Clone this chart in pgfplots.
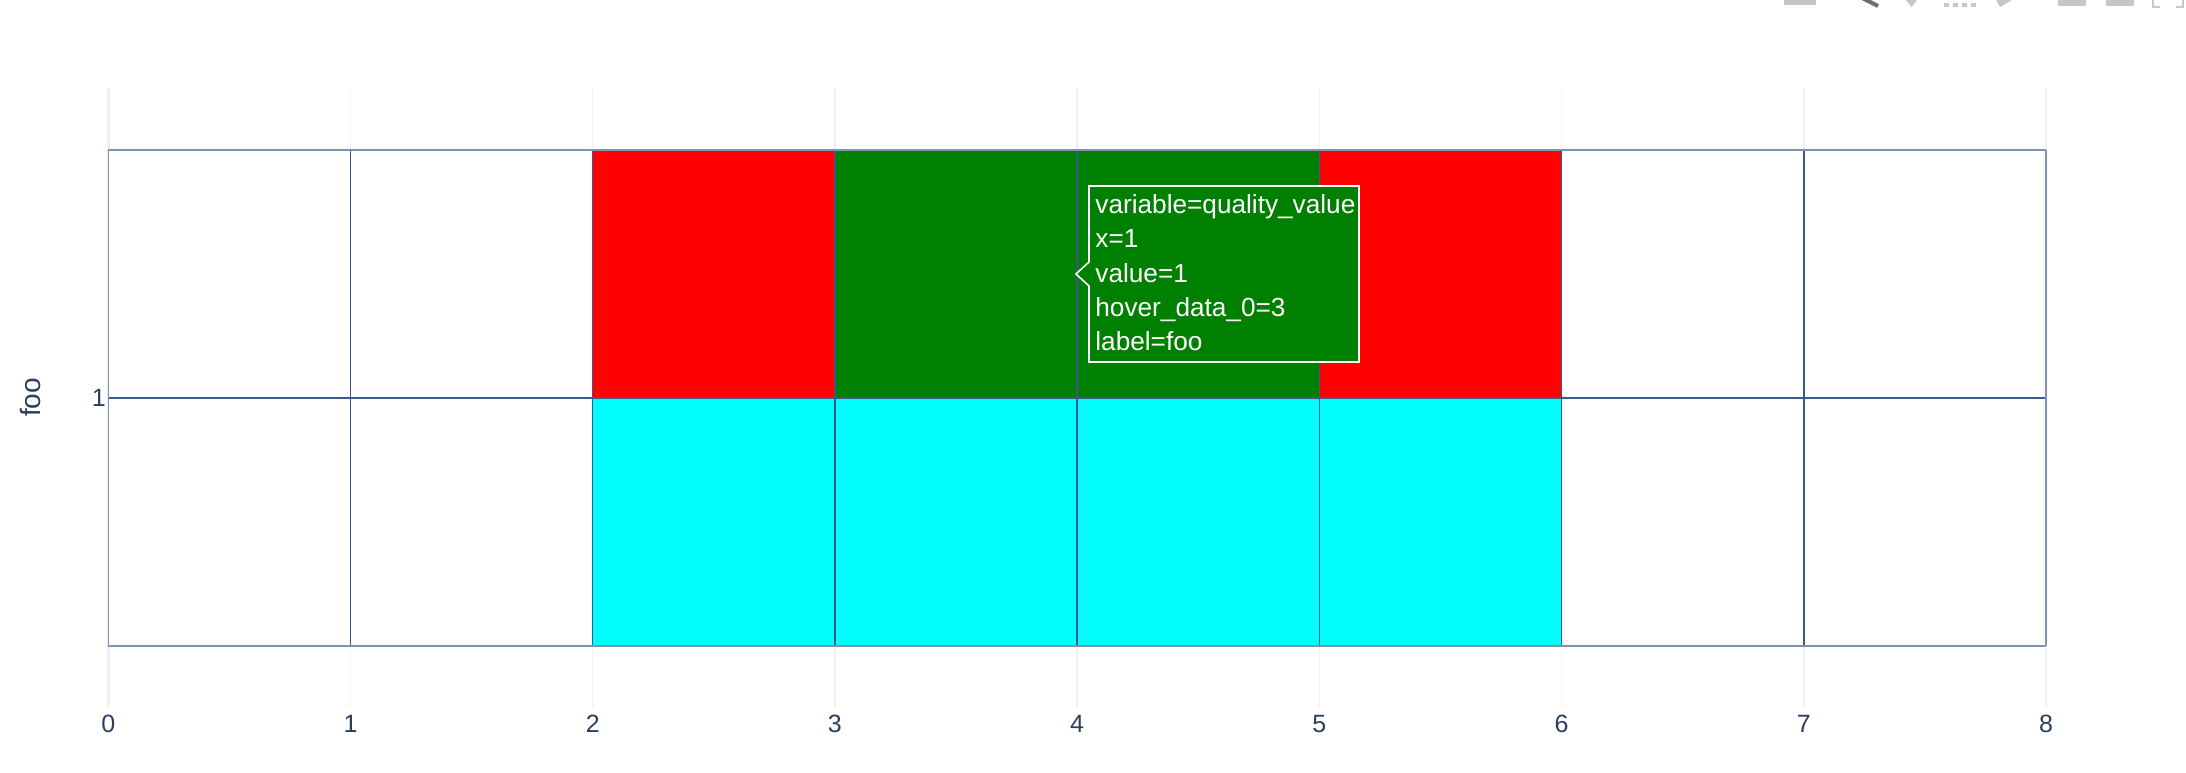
\documentclass[border=0pt]{standalone}
\usepackage{pgfplots}
\pgfplotsset{compat=1.18}
\usepackage{pgfplotstable}
\usepackage{fontspec}
\setmainfont{Liberation Sans}
\definecolor{tickc}{RGB}{42,63,95}
\definecolor{gridc}{RGB}{235,240,248}
\definecolor{linein}{RGB}{58,90,140}
\definecolor{lineout}{RGB}{127,146,176}
\definecolor{tipg}{RGB}{0,128,0}
\definecolor{icong}{RGB}{198,198,198}
\definecolor{icond}{RGB}{110,110,110}
% c: 0 = empty, 1 = cyan, 2 = red, 3 = green
\pgfplotstableread{
x y c
0.5 0.5 0
1.5 0.5 0
2.5 0.5 1
3.5 0.5 1
4.5 0.5 1
5.5 0.5 1
6.5 0.5 0
7.5 0.5 0
0.5 1.5 0
1.5 1.5 0
2.5 1.5 2
3.5 1.5 3
4.5 1.5 3
5.5 1.5 2
6.5 1.5 0
7.5 1.5 0
}\cells
\begin{document}
\begin{tikzpicture}
\path[use as bounding box] (0,0) rectangle (1093pt,386pt);
\begin{axis}[
  at={(54.15pt,32.5pt)}, anchor=south west,
  scale only axis, width=968.85pt, height=309.5pt,
  xmin=0, xmax=8, ymin=-0.246, ymax=2.25,
  xtick={0,1,2,3,4,5,6,7,8}, ytick={1},
  xmajorgrids, ymajorgrids=false,
  major grid style={draw=gridc, line width=0.75pt},
  axis line style={draw=none},
  tick style={draw=none},
  major tick length=0pt,
  /pgf/number format/assume math mode=true,
  tick label style={font=\fontsize{12.5}{15}\selectfont, text=tickc},
  xticklabel style={yshift=-0.6pt},
  yticklabel style={xshift=2.3pt},
  ylabel={foo},
  ylabel style={font=\fontsize{14}{16}\selectfont, text=tickc, at={(axis description cs:0,0.5)}, anchor=center, xshift=0pt, yshift=39pt},
  colormap={q}{rgb255=(255,255,255) rgb255=(0,255,255) rgb255=(255,0,0) rgb255=(0,128,0)},
  point meta min=0, point meta max=3,
  clip=false,
]
\addplot[draw=gridc, line width=1.75pt, forget plot] coordinates {(0,-0.246) (0,2.25)};
\addplot[matrix plot*, mesh/cols=8, draw=none, point meta=explicit]
  table[x=x, y=y, meta=c] {\cells};
\addplot[linein, line width=0.75pt] coordinates {(1,0) (1,2)};
\addplot[linein, line width=0.75pt] coordinates {(2,0) (2,2)};
\addplot[linein, line width=0.75pt] coordinates {(3,0) (3,2)};
\addplot[linein, line width=0.75pt] coordinates {(4,0) (4,2)};
\addplot[linein, line width=0.75pt] coordinates {(5,0) (5,2)};
\addplot[linein, line width=0.75pt] coordinates {(6,0) (6,2)};
\addplot[linein, line width=0.75pt] coordinates {(7,0) (7,2)};
\addplot[linein, line width=0.75pt] coordinates {(0,1) (8,1)};
\addplot[lineout, line width=0.9pt] coordinates {(0,2) (8,2)};
\addplot[lineout, line width=0.9pt] coordinates {(0,0) (8,0)};
\addplot[lineout, line width=0.6pt] coordinates {(0,0) (0,2)};
\addplot[lineout, line width=0.8pt] coordinates {(8,0) (8,2)};
\end{axis}
\begin{scope}[yshift=386pt, x=0.5pt, y=-0.5pt]
  % hover box
  \draw[white, fill=tipg, line width=0.8pt, line join=miter]
    (1076,274) -- (1089,262) -- (1089,186) -- (1359,186) -- (1359,362) -- (1089,362) -- (1089,286) -- cycle;
  \foreach \yy/\tt in {214/{variable=quality\_value}, 248/{x=1}, 283/{value=1}, 317/{hover\_data\_0=3}, 351/{label=foo}} {
    \node[anchor=base west, inner sep=0pt, text=white, font=\fontsize{13.1}{15}\selectfont] at (1095,\yy) {\tt};
  }
  % modebar remnants, cut by the page edge
  \fill[icong] (1784,-4) rectangle (1816,5);
  \draw[icond, line width=2pt] (1858,-4) -- (1878,6);
  \fill[icong] (1906,0) -- (1917,0) -- (1911.5,7) -- cycle;
  \foreach \dx in {1944,1953,1962,1971} \fill[icong] (\dx,3) rectangle +(5,4);
  \fill[icong] (1996,0) -- (2012,0) -- (2000,7) -- cycle;
  \fill[icong] (2058,-2) rectangle (2086,6);
  \fill[icong] (2106,-2) rectangle (2134,6);
  \draw[icong, line width=0.8pt] (2153,-2) -- (2153,7) -- (2160,7);
  \draw[icong, line width=0.8pt] (2183,-2) -- (2183,7) -- (2176,7);
\end{scope}
\end{tikzpicture}
\end{document}
